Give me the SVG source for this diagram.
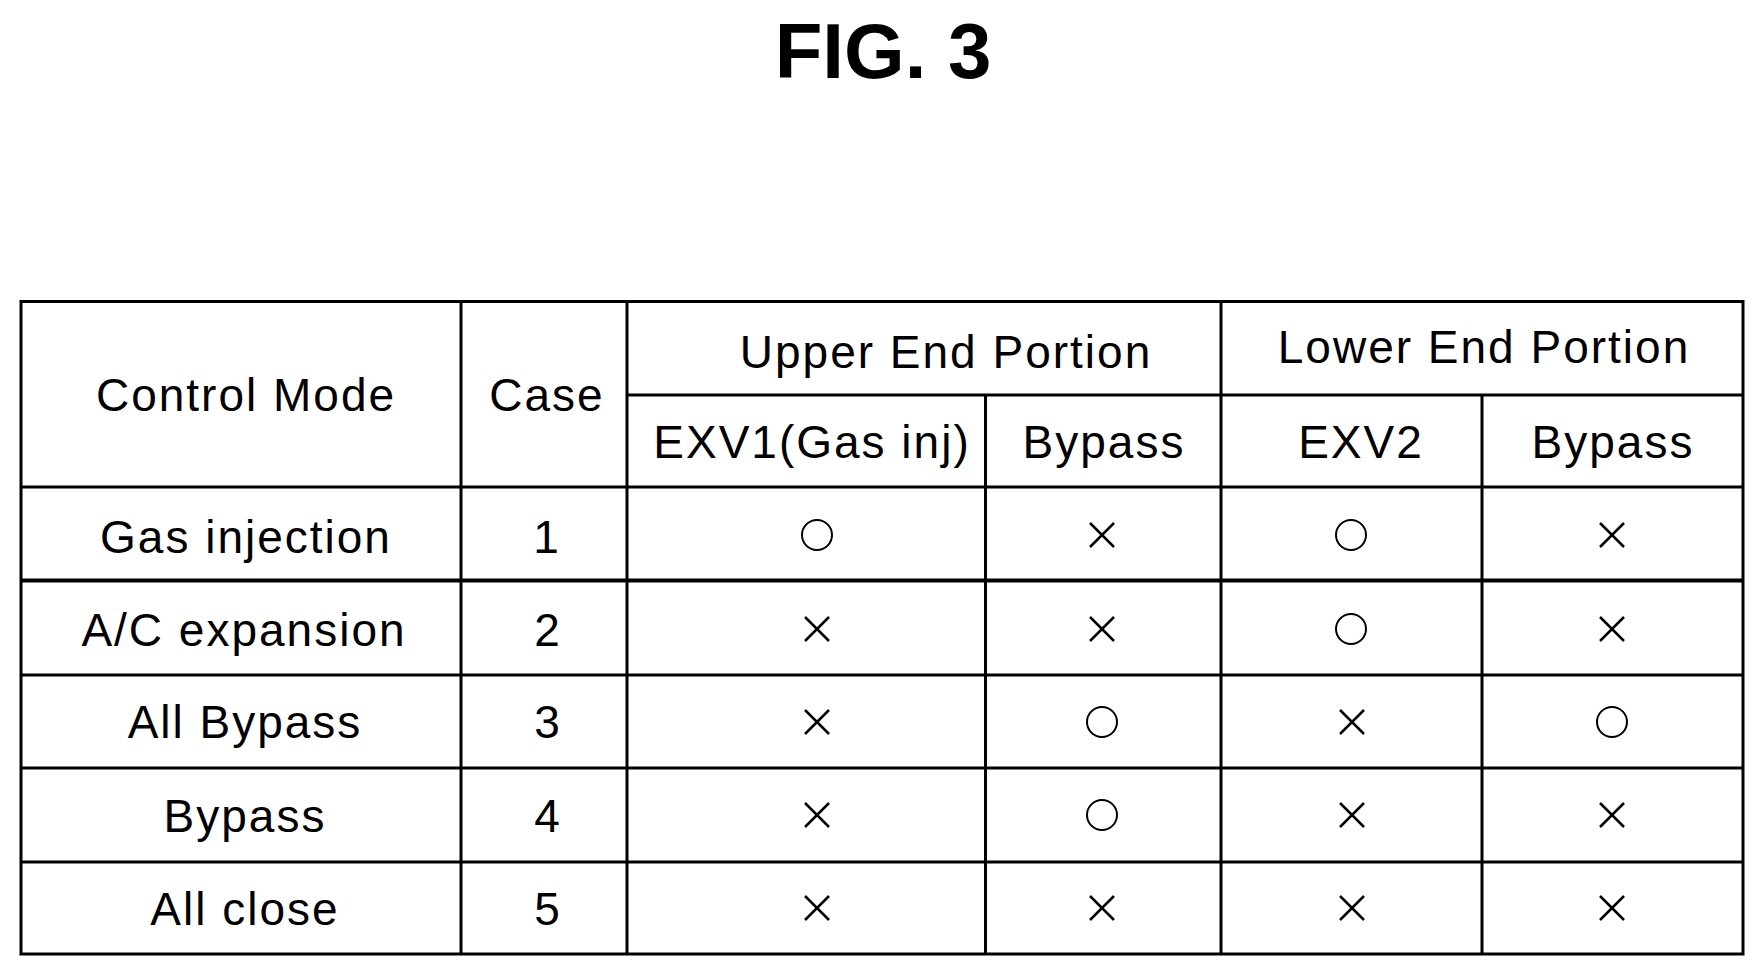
<svg xmlns="http://www.w3.org/2000/svg" width="1764" height="975" viewBox="0 0 1764 975">
<style>
text{font-family:"Liberation Sans",Arial,sans-serif;font-size:46px;text-anchor:middle;fill:#000;letter-spacing:2px}
.t{font-size:78px;font-weight:bold;letter-spacing:0}
line{stroke:#000;stroke-width:3}
.o{fill:none;stroke:#000;stroke-width:2}
.x{stroke:#000;stroke-width:2.5}
</style>
<defs>
<circle id="O" r="15" class="o"/>
<g id="X" class="x"><line x1="-12" y1="-12" x2="12" y2="12" style="stroke-width:2.5"/><line x1="-12" y1="12" x2="12" y2="-12" style="stroke-width:2.5"/></g>
</defs>
<text class="t" x="883" y="78">FIG. 3</text>
<g id="grid">
<rect x="21" y="301.5" width="1722" height="652.5" fill="none" stroke="#000" stroke-width="3"/>
<line x1="627" y1="395" x2="1743" y2="395"/>
<line x1="21" y1="487" x2="1743" y2="487"/>
<line x1="21" y1="580.5" x2="1743" y2="580.5" style="stroke-width:4"/>
<line x1="21" y1="675" x2="1743" y2="675"/>
<line x1="21" y1="768" x2="1743" y2="768"/>
<line x1="21" y1="862" x2="1743" y2="862"/>
<line x1="461" y1="301.5" x2="461" y2="954"/>
<line x1="627" y1="301.5" x2="627" y2="954"/>
<line x1="1221" y1="301.5" x2="1221" y2="954"/>
<line x1="985.5" y1="395" x2="985.5" y2="954"/>
<line x1="1482" y1="395" x2="1482" y2="954"/>
</g>
<g id="header">
<text x="246" y="411">Control Mode</text>
<text x="547" y="411">Case</text>
<text x="946" y="368">Upper End Portion</text>
<text x="1484" y="363">Lower End Portion</text>
<text x="812" y="458">EXV1(Gas inj)</text>
<text x="1104" y="458">Bypass</text>
<text x="1361" y="458">EXV2</text>
<text x="1613" y="458">Bypass</text>
</g>
<g id="rows">
<text x="246" y="553">Gas injection</text><text x="547" y="553">1</text>
<text x="244" y="646">A/C expansion</text><text x="548" y="646">2</text>
<text x="245" y="738">All Bypass</text><text x="548" y="738">3</text>
<text x="245" y="832">Bypass</text><text x="548" y="832">4</text>
<text x="245" y="925">All close</text><text x="548" y="925">5</text>
<use href="#O" x="817" y="535"/><use href="#X" x="1102" y="535"/><use href="#O" x="1351" y="535"/><use href="#X" x="1612" y="535"/>
<use href="#X" x="817" y="629"/><use href="#X" x="1102" y="629"/><use href="#O" x="1351" y="629"/><use href="#X" x="1612" y="629"/>
<use href="#X" x="817" y="722"/><use href="#O" x="1102" y="722"/><use href="#X" x="1352" y="722"/><use href="#O" x="1612" y="722"/>
<use href="#X" x="817" y="815"/><use href="#O" x="1102" y="815"/><use href="#X" x="1352" y="815"/><use href="#X" x="1612" y="815"/>
<use href="#X" x="817" y="908"/><use href="#X" x="1102" y="908"/><use href="#X" x="1352" y="908"/><use href="#X" x="1612" y="908"/>
</g>
</svg>
